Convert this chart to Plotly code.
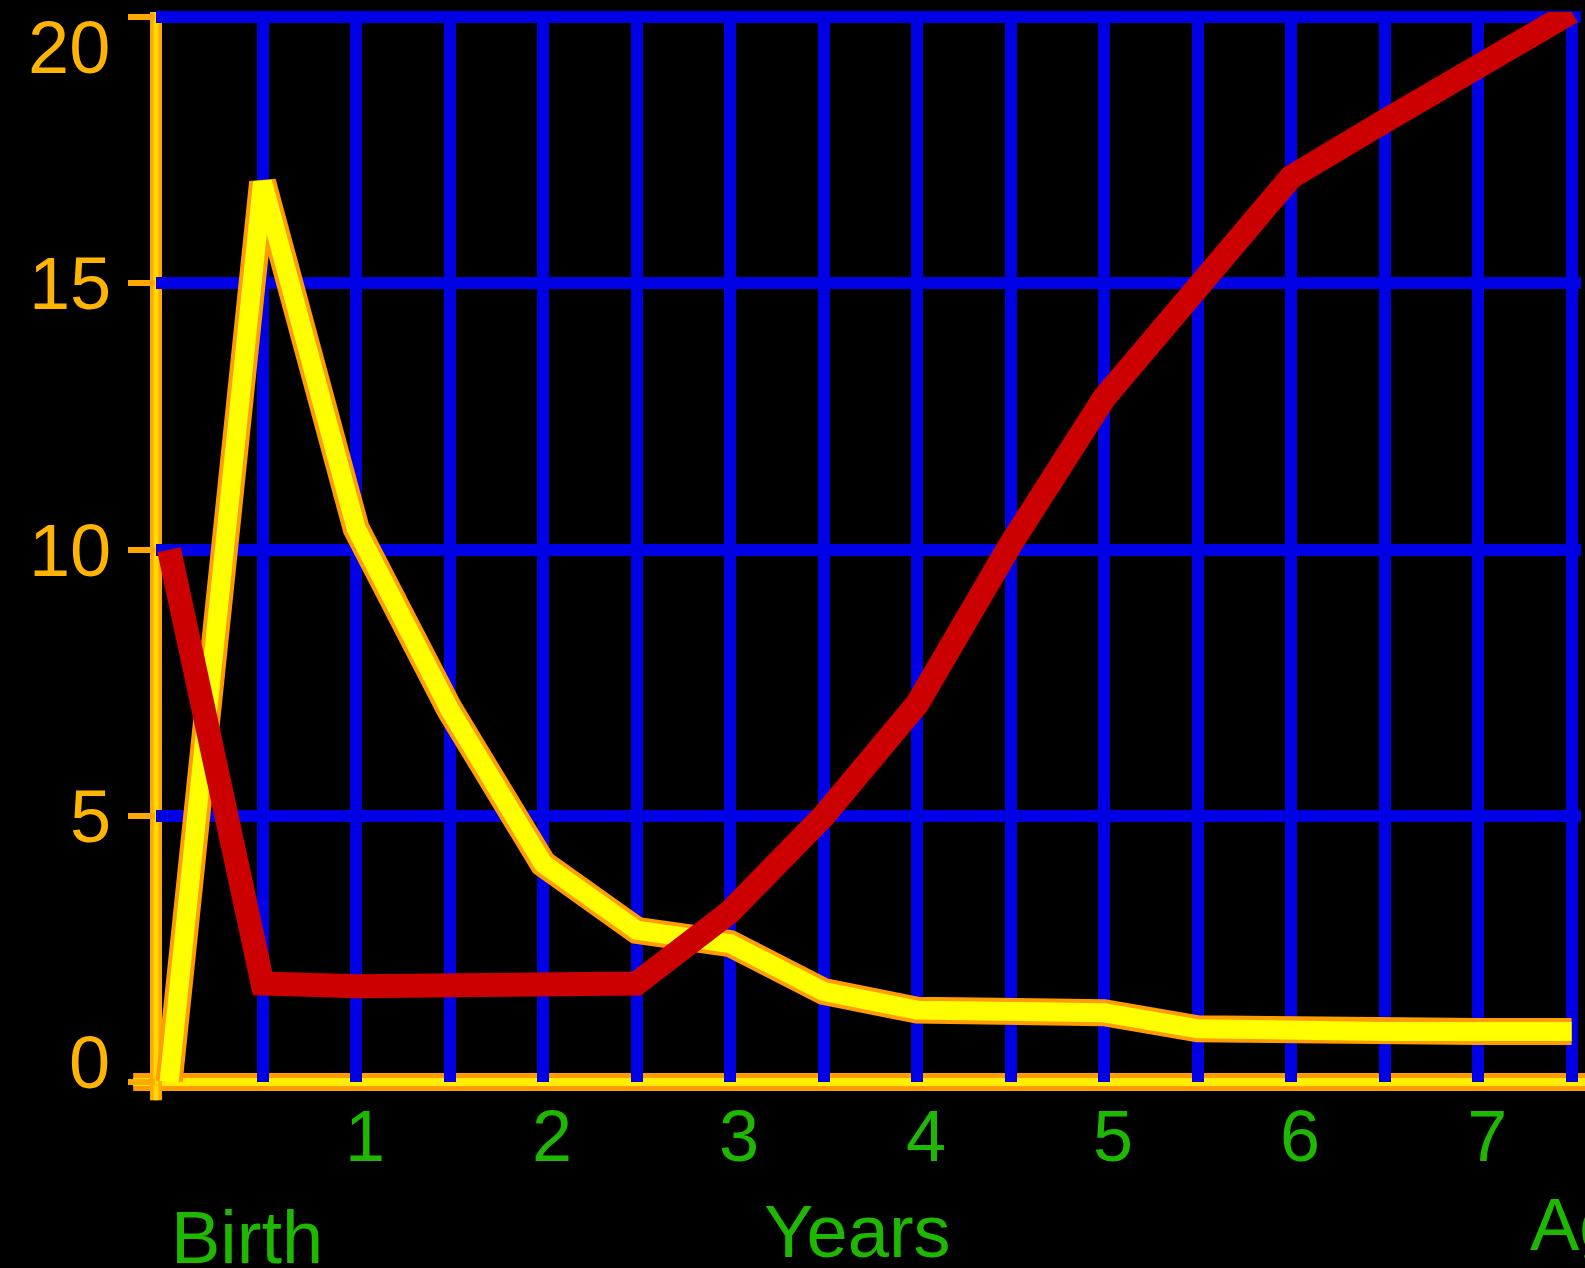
import plotly.graph_objects as go

# ---- data ----
years = [0, 0.5, 1.0, 1.5, 2.0, 2.5, 3.0, 3.5, 4.0, 4.5, 5.0, 5.5, 6.0, 6.5, 7.0, 7.5]
yellow_series = [0, 16.9, 10.4, 7.0, 4.1, 2.85, 2.6, 1.7, 1.35, 1.3, 1.3, 1.0, 0.95, 0.95, 0.95, 0.95]
red_series = [10, 1.85, 1.8, 1.8, 1.8, 1.85, 3.2, 5.0, 7.1, 10.1, 12.85, 15.0, 17.0, 18.05, 19.1, 20.1]

x_tick_vals = [0.5, 1, 1.5, 2, 2.5, 3, 3.5, 4, 4.5, 5, 5.5, 6, 6.5, 7, 7.5]
x_tick_text = ["", "1", "", "2", "", "3", "", "4", "", "5", "", "6", "", "7", ""]
y_tick_vals = [0, 5, 10, 15, 20]
y_tick_text = ["", "5", "10", "15", ""]
y_edge_labels = [(20, "20"), (0, "0")]

x_title = "Years"
left_label = "Birth"
right_label = "Age"

# ---- styles ----
BLUE = "#0000E6"
YELLOW = "#FFFF00"
ORANGE = "#FF9C00"
RED = "#CC0000"
YLAB = "#FFB400"
GREEN = "#1EB800"
FONT = "Liberation Sans, Arial, sans-serif"

W, H = 1585, 1268
ML, MR, MT, MB = 156, 4, 12, 186

fig = go.Figure()
# yellow series with an orange rim
fig.add_trace(go.Scatter(x=years, y=yellow_series, mode="lines",
                         line=dict(color=ORANGE, width=27), hoverinfo="skip", showlegend=False))
fig.add_trace(go.Scatter(x=years, y=yellow_series, mode="lines",
                         line=dict(color=YELLOW, width=19), showlegend=False))
fig.add_trace(go.Scatter(x=years, y=red_series, mode="lines",
                         line=dict(color=RED, width=24), showlegend=False))

# axis lines (orange rim + yellow core)
fig.add_shape(type="line", xref="paper", yref="paper", x0=-0.016, x1=1.01, y0=0, y1=0,
              line=dict(color=ORANGE, width=18), layer="between")
fig.add_shape(type="line", xref="paper", yref="paper", x0=-0.016, x1=1.01, y0=0, y1=0,
              line=dict(color="#FFEE00", width=8), layer="between")
fig.add_shape(type="line", xref="paper", yref="paper", x0=0, x1=0, y0=-0.017, y1=1.0,
              line=dict(color="#FFA800", width=12), layer="between")
fig.add_shape(type="line", xref="paper", yref="paper", x0=0, x1=0, y0=-0.017, y1=1.0,
              line=dict(color="#FFD800", width=5), layer="between")

fig.update_layout(
    width=W, height=H,
    margin=dict(l=ML, r=MR, t=MT, b=MB, pad=0),
    paper_bgcolor="black", plot_bgcolor="black",
    showlegend=False,
    font=dict(family=FONT),
)
fig.update_xaxes(
    range=[-0.07, 7.55],
    tickmode="array", tickvals=x_tick_vals, ticktext=x_tick_text,
    showgrid=True, gridcolor=BLUE, gridwidth=12,
    zeroline=False, showline=False, ticks="",
    tickfont=dict(color=GREEN, size=72, family=FONT),
    ticklabelstandoff=6, ticklabelshift=9,
)
fig.update_yaxes(
    range=[0, 20.1],
    tickmode="array", tickvals=y_tick_vals, ticktext=y_tick_text,
    showgrid=True, gridcolor=BLUE, gridwidth=12,
    zeroline=False, showline=False,
    ticks="outside", ticklen=27, tickwidth=6, tickcolor="#FFA800",
    tickfont=dict(color=YLAB, size=74, family=FONT),
    ticklabelstandoff=2,
)

# edge tick labels (sit slightly inward from their ticks in the reference)
shifts = {20: -30, 0: 20}
for val, txt in y_edge_labels:
    fig.add_annotation(text=txt, xref="paper", yref="y", x=0, y=val,
                       xanchor="right", yanchor="middle", xshift=-44, yshift=shifts[val],
                       showarrow=False, font=dict(color=YLAB, size=74, family=FONT))

ann_font = dict(color=GREEN, size=74, family=FONT)
fig.add_annotation(text=x_title, xref="paper", yref="paper", x=0.492, y=-0.099,
                   xanchor="center", yanchor="top", showarrow=False, font=ann_font)
fig.add_annotation(text=left_label, xref="x", yref="paper", x=0, y=-0.105,
                   xanchor="left", yanchor="top", showarrow=False, font=ann_font)
fig.add_annotation(text=right_label, xref="paper", yref="paper", x=0.9628, y=-0.0925,
                   xanchor="left", yanchor="top", showarrow=False, font=ann_font)

fig.write_html("out.html", config={"displayModeBar": False},
               post_script="document.body.style.margin='0';document.body.style.overflow='hidden';")
